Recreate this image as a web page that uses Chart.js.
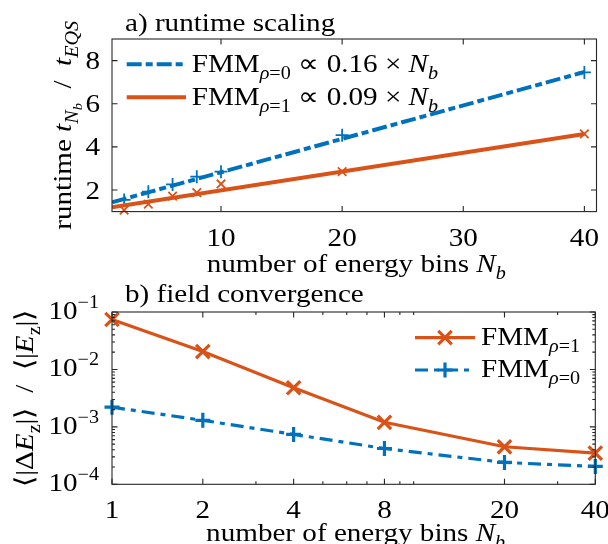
<!DOCTYPE html>
<html><head><meta charset="utf-8">
<script src="https://cdn.jsdelivr.net/npm/chart.js@4/dist/chart.umd.min.js"></script>
<style>
html,body{margin:0;padding:0;background:#fff;}
#wrap{position:relative;width:608px;height:544px;background:#fff;}
canvas{position:absolute;left:0;top:0;}
</style></head><body>
<div id="wrap">
<canvas id="c1" width="608" height="544" style="width:608px;height:544px"></canvas>
<canvas id="c2" width="608" height="544" style="width:608px;height:544px"></canvas>
</div>
<script>
// ---------- data ----------
const binsA = [2, 4, 6, 8, 10, 20, 40];
const runtimeRho0 = [1.54, 1.92, 2.26, 2.62, 2.85, 4.54, 7.45];
const runtimeRho1 = [1.07, 1.35, 1.72, 1.88, 2.28, 2.85, 4.6];
const fitBins = [1, 40];
const fitRho0 = [1.43, 7.47];
const fitRho1 = [1.2, 4.6];

const binsB = [1, 2, 4, 8, 20, 40];
const errRho1 = [0.074, 0.0205, 0.0048, 0.0012, 0.00045, 0.00035];
const errRho0 = [0.0022, 0.0013, 0.00074, 0.00042, 0.00024, 0.000205];

const ticksAx = [10, 20, 30, 40];
const ticksAy = [2, 4, 6, 8];
const ticksBx = [1, 2, 4, 8, 20, 40];
const minorBx = [3, 5, 6, 7, 9, 10, 30];
const ticksBy = [1e-4, 1e-3, 1e-2, 1e-1];
const ticksByExp = ['-4', '-3', '-2', '-1'];
const minorBy = [2e-4,3e-4,4e-4,5e-4,6e-4,7e-4,8e-4,9e-4,2e-3,3e-3,4e-3,5e-3,6e-3,7e-3,8e-3,9e-3,2e-2,3e-2,4e-2,5e-2,6e-2,7e-2,8e-2,9e-2];

// ---------- style ----------
const BLUE = '#0072BD';
const ORANGE = '#D95319';
const AXIS = '#262626';
const FAMILY = '"Liberation Serif", serif';
const FS = 26;
const SX = 1.12;

function segFont(s, size){ return (s.it ? 'italic ' : '') + Math.round(size) + 'px ' + FAMILY; }
function segSize(s, size){ return s.sub === 2 ? size*0.5 : (s.sub || s.sup) ? size*0.7 : size; }
function segDy(s, size){ return s.sub === 2 ? size*0.42 : s.sub ? size*0.28 : s.sup ? -size*0.42 : 0; }
function richWidth(ctx, segs, size){
  let w = 0;
  for (const s of segs){ ctx.font = segFont(s, segSize(s,size)); w += ctx.measureText(s.t).width; }
  return w;
}
function drawRich(ctx, segs, x, y, size, align, rot){
  ctx.save();
  ctx.translate(x, y);
  if (rot) ctx.rotate(-Math.PI/2);
  ctx.scale(SX, 1);
  const w = richWidth(ctx, segs, size);
  let cx = align === 'center' ? -w/2 : align === 'right' ? -w : 0;
  ctx.textAlign = 'left'; ctx.textBaseline = 'alphabetic'; ctx.fillStyle = '#000';
  for (const s of segs){
    const sz = segSize(s, size);
    ctx.font = segFont(s, sz);
    ctx.fillText(s.t, cx, segDy(s, size));
    cx += ctx.measureText(s.t).width;
  }
  ctx.restore();
}

// ---------- texts ----------
const titleA = [{t:'a) runtime scaling'}];
const titleB = [{t:'b) field convergence'}];
const xLabel = [{t:'number of energy bins '},{t:'N',it:true},{t:'b',it:true,sub:1}];
const yLabelA = [{t:'runtime '},{t:'t',it:true},{t:'N',it:true,sub:1},{t:'b',it:true,sub:2},{t:'  /  '},{t:'t',it:true},{t:'EQS',it:true,sub:1}];
const yLabelB = [{t:'\u27E8|\u0394'},{t:'E',it:true},{t:'z',sub:1},{t:'|\u27E9  /  \u27E8|'},{t:'E',it:true},{t:'z',sub:1},{t:'|\u27E9'}];
const legA0 = [{t:'FMM'},{t:'\u03C1',it:true,sub:1},{t:'=0',sub:1},{t:' \u221D 0.16 \u00D7 '},{t:'N',it:true},{t:'b',it:true,sub:1}];
const legA1 = [{t:'FMM'},{t:'\u03C1',it:true,sub:1},{t:'=1',sub:1},{t:' \u221D 0.09 \u00D7 '},{t:'N',it:true},{t:'b',it:true,sub:1}];
const legB1 = [{t:'FMM'},{t:'\u03C1',it:true,sub:1},{t:'=1',sub:1}];
const legB0 = [{t:'FMM'},{t:'\u03C1',it:true,sub:1},{t:'=0',sub:1}];

function drawFrame(chart, xt, yt, xm, ym){
  const {ctx, chartArea:a, scales:{x, y}} = chart;
  ctx.save();
  ctx.strokeStyle = AXIS; ctx.lineWidth = 1.1; ctx.setLineDash([]);
  ctx.beginPath();
  const L = 5.5, M = 3;
  const vt = (arr, len) => { for (const v of arr){ const p = x.getPixelForValue(v); ctx.moveTo(p, a.bottom); ctx.lineTo(p, a.bottom-len); ctx.moveTo(p, a.top); ctx.lineTo(p, a.top+len); } };
  const ht = (arr, len) => { for (const v of arr){ const p = y.getPixelForValue(v); ctx.moveTo(a.left, p); ctx.lineTo(a.left+len, p); ctx.moveTo(a.right, p); ctx.lineTo(a.right-len, p); } };
  vt(xt, L); ht(yt, L);
  if (xm) vt(xm, M);
  if (ym) ht(ym, M);
  ctx.stroke();
  ctx.strokeRect(a.left, a.top, a.right-a.left, a.bottom-a.top);
  ctx.restore();
}

function legendLine(ctx, ds, x0, x1, y){
  ctx.save();
  ctx.strokeStyle = ds.borderColor; ctx.lineWidth = ds.borderWidth;
  ctx.setLineDash(ds.borderDash || []);
  ctx.beginPath(); ctx.moveTo(x0, y); ctx.lineTo(x1, y); ctx.stroke();
  ctx.restore();
}

const topPlugin = {
  id: 'topDeco',
  afterDraw(chart){
    const {ctx, chartArea:a, scales:{x, y}} = chart;
    drawFrame(chart, ticksAx, ticksAy);
    for (const v of x.ticks) drawRich(ctx, [{t:String(v.value)}], x.getPixelForValue(v.value), a.bottom + 33.9, FS, 'center');
    for (const v of y.ticks) drawRich(ctx, [{t:String(v.value)}], a.left - 12, y.getPixelForValue(v.value) + 8.6, FS, 'right');
    drawRich(ctx, titleA, 125, 30.7, FS, 'left');
    drawRich(ctx, xLabel, (a.left + a.right)/2 + 2, 271.7, FS, 'center');
    drawRich(ctx, yLabelA, 71, (a.top + a.bottom)/2, FS, 'center', true);
    const d = chart.data.datasets;
    legendLine(ctx, d[0], 126.7, 186, 64.3);
    drawRich(ctx, legA0, 191.7, 71.7, FS, 'left');
    legendLine(ctx, d[1], 126.7, 186, 97.3);
    drawRich(ctx, legA1, 191.7, 104.7, FS, 'left');
  }
};

const botPlugin = {
  id: 'botDeco',
  afterDraw(chart){
    const {ctx, chartArea:a, scales:{x, y}} = chart;
    drawFrame(chart, ticksBx, ticksBy, minorBx, minorBy);
    for (const v of x.ticks) drawRich(ctx, [{t:String(v.value)}], x.getPixelForValue(v.value), a.bottom + 33.7, FS, 'center');
    y.ticks.forEach((v) => {
      const i = ticksBy.indexOf(v.value);
      drawRich(ctx, [{t:'10'},{t:'\u2212' + ticksByExp[i].slice(1), sup:true}], a.left - 13, y.getPixelForValue(v.value) + 6.7, FS, 'right');
    });
    drawRich(ctx, titleB, 125, 302, FS, 'left');
    drawRich(ctx, xLabel, (a.left + a.right)/2 + 2, 541, FS, 'center');
    drawRich(ctx, yLabelB, 33, (a.top + a.bottom)/2, FS, 'center', true);
    const d = chart.data.datasets;
    // legend: orange (rho=1) first, then blue (rho=0)
    legendLine(ctx, d[0], 415, 475, 337.7);
    ctx.save(); ctx.strokeStyle = d[0].borderColor; ctx.lineWidth = d[0].pointBorderWidth;
    Chart.helpers.drawPoint(ctx, {pointStyle: d[0].pointStyle, radius: d[0].pointRadius, borderWidth: d[0].pointBorderWidth}, 445, 337.7);
    ctx.restore();
    drawRich(ctx, legB1, 481, 345, FS, 'left');
    legendLine(ctx, d[1], 415, 475, 370);
    ctx.save(); ctx.strokeStyle = d[1].borderColor; ctx.lineWidth = d[1].pointBorderWidth;
    Chart.helpers.drawPoint(ctx, {pointStyle: d[1].pointStyle, radius: d[1].pointRadius, borderWidth: d[1].pointBorderWidth}, 445, 370);
    ctx.restore();
    drawRich(ctx, legB0, 481, 377, FS, 'left');
  }
};

function pts(xs, ys){ return xs.map((v, i) => ({x: v, y: ys[i]})); }

const hiddenScale = (extra) => Object.assign({
  grid: {display: false, drawTicks: false},
  border: {display: false},
  ticks: {display: false},
  title: {display: false}
}, extra);

// ---------- chart a) ----------
new Chart(document.getElementById('c1'), {
  type: 'scatter',
  data: { datasets: [
    {label: 'FMM rho=0 fit', data: pts(fitBins, fitRho0), showLine: true, borderColor: BLUE, backgroundColor: BLUE, borderWidth: 4, borderDash: [15, 4, 7, 4], pointRadius: 0},
    {label: 'FMM rho=1 fit', data: pts(fitBins, fitRho1), showLine: true, borderColor: ORANGE, backgroundColor: ORANGE, borderWidth: 4, pointRadius: 0},
    {label: 'FMM rho=0', data: pts(binsA, runtimeRho0), showLine: false, pointStyle: 'cross', pointRadius: 6.5, pointBorderWidth: 1.8, borderColor: BLUE, backgroundColor: BLUE, clip: false},
    {label: 'FMM rho=1', data: pts(binsA, runtimeRho1), showLine: false, pointStyle: 'crossRot', pointRadius: 6, pointBorderWidth: 1.8, borderColor: ORANGE, backgroundColor: ORANGE, clip: false}
  ]},
  options: {
    responsive: false, animation: false, devicePixelRatio: 1,
    layout: {padding: {top: 39, right: 11.5, bottom: 272, left: 0}},
    plugins: {legend: {display: false}, tooltip: {enabled: false}, title: {display: false}},
    scales: {
      x: hiddenScale({type: 'linear', min: 1, max: 41,
        afterBuildTicks: s => { s.ticks = ticksAx.map(v => ({value: v})); },
        afterFit: s => { s.height = 60.4; }}),
      y: hiddenScale({type: 'linear', min: 1, max: 9,
        afterBuildTicks: s => { s.ticks = ticksAy.map(v => ({value: v})); },
        afterFit: s => { s.width = 112; }})
    }
  },
  plugins: [topPlugin]
});

// ---------- chart b) ----------
new Chart(document.getElementById('c2'), {
  type: 'scatter',
  data: { datasets: [
    {label: 'FMM rho=1', data: pts(binsB, errRho1), showLine: true, borderColor: ORANGE, backgroundColor: ORANGE, borderWidth: 3.2, pointStyle: 'crossRot', pointRadius: 9.5, pointBorderWidth: 3.2, clip: false},
    {label: 'FMM rho=0', data: pts(binsB, errRho0), showLine: true, borderColor: BLUE, backgroundColor: BLUE, borderWidth: 3.2, borderDash: [13, 6, 5, 6], pointStyle: 'cross', pointRadius: 7.5, pointBorderWidth: 3.2, clip: false}
  ]},
  options: {
    responsive: false, animation: false, devicePixelRatio: 1,
    layout: {padding: {top: 312, right: 11.5, bottom: 0, left: 0}},
    plugins: {legend: {display: false}, tooltip: {enabled: false}, title: {display: false}},
    scales: {
      x: hiddenScale({type: 'logarithmic', min: 1, max: 40,
        afterBuildTicks: s => { s.ticks = ticksBx.map(v => ({value: v})); },
        afterFit: s => { s.height = 59.7; }}),
      y: hiddenScale({type: 'logarithmic', min: 1e-4, max: 1e-1,
        afterBuildTicks: s => { s.ticks = ticksBy.map(v => ({value: v})); },
        afterFit: s => { s.width = 112; }})
    }
  },
  plugins: [botPlugin]
});
</script>
</body></html>
